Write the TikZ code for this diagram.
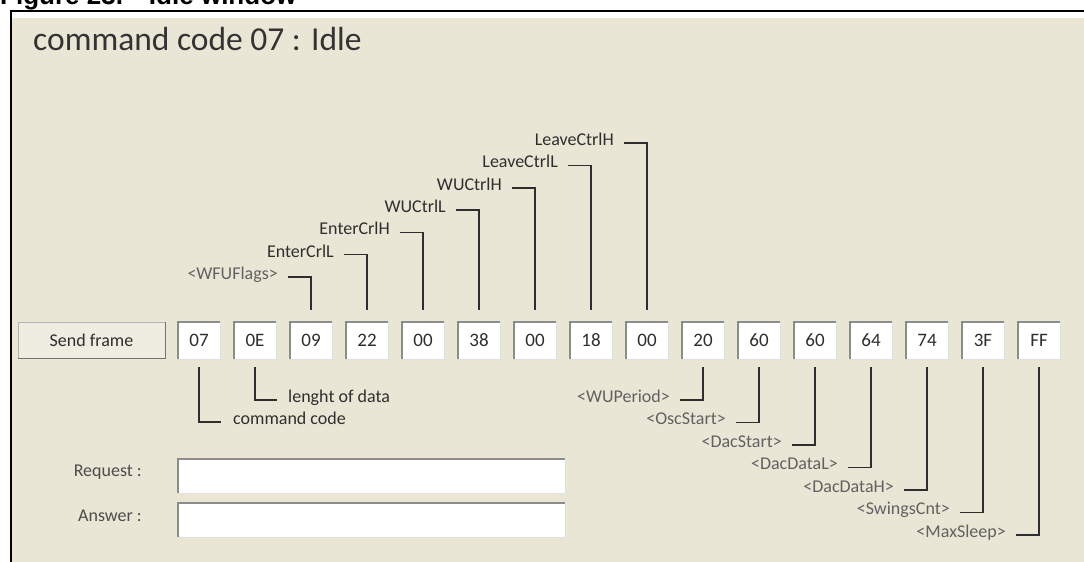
\documentclass[tikz,border=0pt]{standalone}
\usepackage{fontspec}
\setmainfont{Carlito}
\newfontfamily\capfont{Liberation Sans}
\definecolor{panel}{HTML}{EAE6D6}
\definecolor{btn}{HTML}{EFECE1}

\begin{document}
\begin{tikzpicture}[x=1pt,y=-1pt,
    lbl/.style={inner sep=0pt,font=\fontsize{18}{20}\selectfont,text=black!82},
    hint/.style={lbl,text=black!62},
    cell/.style={draw=black!12,fill=white,minimum width=42pt,minimum height=37pt,inner sep=0pt,font=\fontsize{19}{21}\selectfont,text=black!82},
    field/.style={draw=black!12,fill=white,minimum width=387pt,minimum height=34pt,inner sep=0pt},
    sunk/.style={black!45,line width=1.6pt},
    lead/.style={black!82,line width=1.5pt}]
  \useasboundingbox (0,0) rectangle (1084,562);
  \fill[white] (0,0) rectangle (1084,562);
  \fill[panel] (12,18) rectangle (1084,562);
  \draw[line width=2pt] (11,562) -- (11,11) -- (1084,11);
  % caption, cut off at the top
  \begin{scope}
    \clip (0,0) rectangle (1084,10);
    \node[anchor=base west,inner sep=0pt,font=\capfont\bfseries\fontsize{26}{28}\selectfont] (cap) at (0,5) {Figure 23.\quad Idle window};
  \end{scope}
  \node[anchor=base west,inner sep=0pt,font=\fontsize{33.5}{36}\selectfont,text=black!80] (title) at (33,50) {command code 07 : Idle};
  % send button
  \node[fill=btn,draw=black!30,minimum width=147pt,minimum height=36pt,inner sep=0pt,font=\fontsize{18}{20}\selectfont,text=black!82] (send) at (91.5,340) {Send frame};
  \draw[black!55,line width=1.2pt] (send.south west) -| (send.north east);
  % frame bytes
  \foreach \v [count=\i from 0] in {07,0E,09,22,00,38,00,18,00,20,60,60,64,74,3F,FF}{
    \node[cell] (b\i) at (199+56*\i,340.5) {\v};
    \draw[sunk] (b\i.south west) |- (b\i.north east);
  }
  % names above
  \foreach \t/\s [count=\k from 0] in {{<WFUFlags>}/hint,EnterCrlL/lbl,EnterCrlH/lbl,WUCtrlL/lbl,WUCtrlH/lbl,LeaveCtrlL/lbl,LeaveCtrlH/lbl}{
    \pgfmathtruncatemacro\j{\k+2}
    \node[\s,anchor=mid east] (t\j) at (199+56*\j-33,277-22.3*\k) {\t};
    \draw[lead] ([xshift=10pt]t\j.mid east) -| ([yshift=12pt]b\j.north);
  }
  % names below, right
  \foreach \t [count=\k from 0] in {{<WUPeriod>},{<OscStart>},{<DacStart>},{<DacDataL>},{<DacDataH>},{<SwingsCnt>},{<MaxSleep>}}{
    \pgfmathtruncatemacro\j{\k+9}
    \node[hint,anchor=mid east] (r\j) at (199+56*\j-33,400+22.5*\k) {\t};
    \draw[lead] ([yshift=-8pt]b\j.south) |- ([xshift=10pt]r\j.mid east);
  }
  % names below, left
  \node[lbl,anchor=mid west] (len) at (288,400) {lenght of data};
  \node[lbl,anchor=mid west] (cmd) at (233,422) {command code};
  \draw[lead] ([yshift=-8pt]b1.south) |- ([xshift=-11pt]len.mid west);
  \draw[lead] ([yshift=-8pt]b0.south) |- ([xshift=-12pt]cmd.mid west);
  % request / answer
  \node[lbl,anchor=mid east,text=black!70] (req) at (142,474) {Request :};
  \node[lbl,anchor=mid east,text=black!70] (ans) at (142,519) {Answer :};
  \node[field] (reqf) at (371.5,476) {};
  \node[field] (ansf) at (371.5,520) {};
  \draw[sunk] (reqf.south west) |- (reqf.north east);
  \draw[sunk] (ansf.south west) |- (ansf.north east);
\end{tikzpicture}
\end{document}
